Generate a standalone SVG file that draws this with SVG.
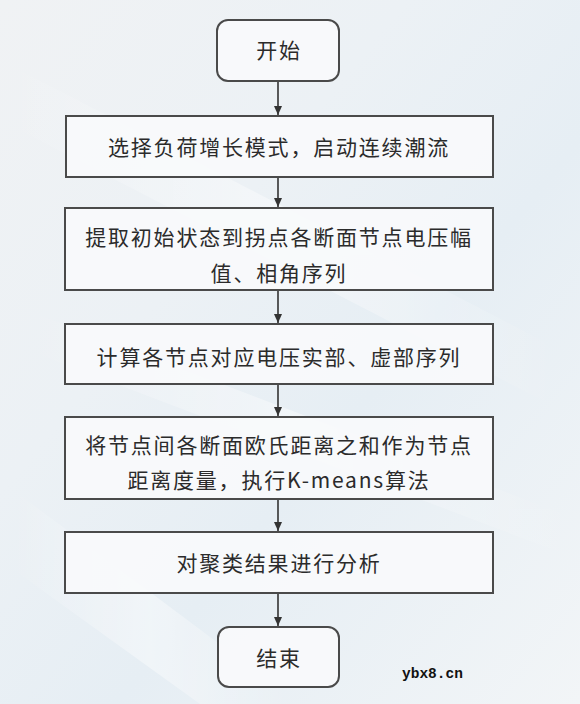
<svg xmlns="http://www.w3.org/2000/svg" width="580" height="704" viewBox="0 0 580 704">
<defs>
<linearGradient id="bg" x1="0" y1="0" x2="1" y2="1">
<stop offset="0" stop-color="#f0f2f4"/>
<stop offset="0.35" stop-color="#ecf1f5"/>
<stop offset="0.6" stop-color="#e6eef4"/>
<stop offset="1" stop-color="#f2f5f7"/>
</linearGradient>
<linearGradient id="streak" x1="0" y1="0" x2="1" y2="0">
<stop offset="0" stop-color="#ffffff" stop-opacity="0"/>
<stop offset="0.5" stop-color="#ffffff" stop-opacity="0.6"/>
<stop offset="1" stop-color="#ffffff" stop-opacity="0"/>
</linearGradient>
<marker id="ah" markerWidth="10" markerHeight="10" refX="9" refY="5" orient="auto" markerUnits="userSpaceOnUse">
<path d="M0,1 L9,5 L0,9 Z" fill="#333"/>
</marker>
<style>
.box{fill:#f9fafb;fill-opacity:0.92;stroke:#4a4a4a;stroke-width:2}
.t{font-family:"Noto Sans CJK SC","Noto Sans",sans-serif;font-size:21px;fill:#2b2b2b;text-anchor:middle;letter-spacing:1.8px}
.c{stroke:#333;stroke-width:1.6;fill:none;marker-end:url(#ah)}
.wm{font-family:"Liberation Mono",monospace;font-size:14.5px;fill:#111;font-weight:bold}
</style>
</defs>
<rect width="580" height="704" fill="url(#bg)"/>
<g opacity="0.7">
<polygon points="0,60 580,360 580,420 0,120" fill="url(#streak)"/>
<polygon points="0,300 580,520 580,560 0,340" fill="url(#streak)"/>
<polygon points="0,480 300,704 200,704 0,560" fill="url(#streak)"/>
</g>
<g id="connectors">
<line class="c" x1="278" y1="81" x2="278" y2="115"/>
<line class="c" x1="278" y1="177" x2="278" y2="207"/>
<line class="c" x1="278" y1="290" x2="278" y2="323"/>
<line class="c" x1="278" y1="384" x2="278" y2="416"/>
<line class="c" x1="278" y1="499" x2="278" y2="531"/>
<line class="c" x1="278" y1="593" x2="278" y2="626"/>
</g>
<g id="start">
<rect class="box" x="217" y="20" width="122" height="61" rx="11"/>
<text class="t" x="279" y="58">开始</text>
</g>
<g id="step1">
<rect class="box" x="66" y="116" width="427" height="61"/>
<text class="t" x="279" y="155">选择负荷增长模式，启动连续潮流</text>
</g>
<g id="step2">
<rect class="box" x="65" y="208" width="428" height="82"/>
<text class="t" x="279" y="245">提取初始状态到拐点各断面节点电压幅</text>
<text class="t" x="279" y="281">值、相角序列</text>
</g>
<g id="step3">
<rect class="box" x="65" y="324" width="428" height="60"/>
<text class="t" x="279" y="365">计算各节点对应电压实部、虚部序列</text>
</g>
<g id="step4">
<rect class="box" x="65" y="417" width="428" height="82"/>
<text class="t" x="279" y="453">将节点间各断面欧氏距离之和作为节点</text>
<text class="t" x="279" y="488">距离度量，执行K-means算法</text>
</g>
<g id="step5">
<rect class="box" x="65" y="532" width="428" height="61"/>
<text class="t" x="279" y="571">对聚类结果进行分析</text>
</g>
<g id="end">
<rect class="box" x="218" y="627" width="121" height="60" rx="11"/>
<text class="t" x="279" y="666">结束</text>
</g>
<text class="wm" x="402" y="678">ybx8.cn</text>
</svg>
